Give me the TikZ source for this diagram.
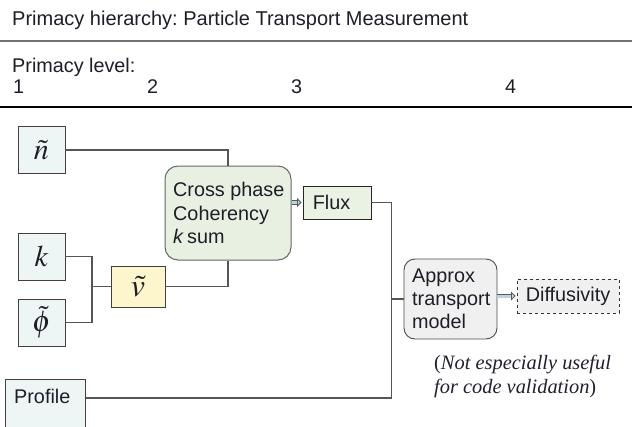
\documentclass[tikz,border=0pt]{standalone}
\usepackage{mathptmx}
\usepackage{fontspec}
\setmainfont{Liberation Sans}
\newfontfamily\serifnote{Liberation Serif}
\usetikzlibrary{arrows.meta,calc}
\frenchspacing
\definecolor{txt}{HTML}{1E1E28}
\definecolor{bluebox}{HTML}{EEF5F5}
\definecolor{yellowbox}{HTML}{FDF5CB}
\definecolor{greenbox}{HTML}{E8F0E2}
\definecolor{fluxbox}{HTML}{EAF2E4}
\definecolor{graybox}{HTML}{F0F0F0}
\definecolor{wire}{HTML}{555555}
\definecolor{arrowfill}{HTML}{B5D6E2}
\definecolor{notecol}{HTML}{20202E}
\tikzset{
  basefont/.style={font=\fontsize{19.8}{23.5}\selectfont, text=txt},
  varbox/.style={draw=black!75, line width=0.9pt, fill=bluebox, minimum width=47pt, minimum height=47pt, inner sep=0pt, font=\fontsize{30}{32}\selectfont, text=txt},
  wirestyle/.style={draw=wire, line width=1.1pt},
  fatarrow/.style={draw=black!65, line width=0.8pt, double=arrowfill, double distance=3pt, -{Triangle[length=4.5pt, width=9pt, fill=arrowfill]}, shorten >=1pt},
}
\begin{document}
\begin{tikzpicture}[x=1pt,y=-1pt, basefont]
\useasboundingbox (0,0) rectangle (632,426);
\fill[white] (0,0) rectangle (632,426);
% header
\node[anchor=base west, inner sep=0pt, font=\fontsize{20}{24}\selectfont] (title) at (12,25) {Primacy hierarchy: Particle Transport Measurement};
\draw[line width=2pt, draw=black!55] (0,41) -- (632,41);
\node[anchor=base west, inner sep=0pt] (plevel) at (12,72) {Primacy level:};
\node[anchor=base west, inner sep=0pt] (l1) at (13,93) {1};
\node[anchor=base west, inner sep=0pt] (l2) at (147,93) {2};
\node[anchor=base west, inner sep=0pt] (l3) at (291,93) {3};
\node[anchor=base west, inner sep=0pt] (l4) at (505,93) {4};
\draw[line width=1.4pt, draw=black] (0,107) -- (632,107);
% level 1 boxes
\node[varbox] (nt) at (41.5,150) {$\tilde{n}$};
\node[varbox] (kk) at (41.5,256.5) {$k$};
\node[varbox] (ph) at (41.5,322.5) {$\tilde{\phi}$};
\node[draw=black!75, line width=0.9pt, fill=bluebox, anchor=north west, minimum width=80pt, minimum height=70pt, inner sep=0pt] (prof) at (5,379) {};
\node[anchor=base west, inner sep=0pt] (proftext) at ($(prof.north west)+(9,24)$) {Profile};
% level 2
\node[draw=black!75, line width=0.9pt, fill=yellowbox, minimum width=54pt, minimum height=41pt, inner sep=0pt, font=\fontsize{32}{34}\selectfont, text=txt] (vv) at (138,286.5) {$\tilde{v}$};
% level 3
\node[draw=black!60, line width=1pt, fill=greenbox, rounded corners=13pt, minimum width=126pt, minimum height=94pt, inner sep=0pt] (cp) at (228,213) {};
\node[anchor=north west, align=left, inner sep=0pt] (cptext) at (173,182) {Cross phase\\Coherency\\\textit{k}\,sum};
\node[draw=black!85, line width=0.9pt, fill=fluxbox, minimum width=68pt, minimum height=33pt, inner sep=0pt] (flux) at (337,202.5) {\hspace*{-11pt}Flux};
% level 4
\node[draw=black!70, line width=0.9pt, fill=graybox, rounded corners=11pt, minimum width=93pt, minimum height=80pt, inner sep=0pt] (am) at (450.5,299) {};
\node[anchor=north west, align=left, inner sep=0pt, font=\fontsize{19.8}{23}\selectfont] (amtext) at (412,269) {Approx\\transport\\model};
\node[draw=black!80, dashed, line width=0.8pt, fill=graybox, minimum width=102pt, minimum height=34pt, inner sep=0pt] (diff) at (568,296) {Diffusivity};
\node[anchor=north west, align=left, inner sep=0pt, text=notecol, font=\serifnote\fontsize{20.4}{24}\selectfont] (note) at (434,355) {\textup{(}\textit{Not especially useful}\\\textit{for code validation}\textup{)}};
% wires
\draw[wirestyle] (nt.east) -| (cp.north);
\draw[wirestyle] (kk.east) -- ++(26.5,0) coordinate (kj) |- (ph.east);
\draw[wirestyle] (kj |- vv.west) -- (vv.west);
\draw[wirestyle] (vv.east) -| (cp.south);
\coordinate (pe) at ($(prof.north east)+(0,19)$);
\draw[wirestyle] (flux.east) -- ++(20,0) coordinate (fj) |- (pe);
\draw[wirestyle] (fj |- am.west) -- (am.west);
% arrows
\draw[fatarrow] (cp.east |- flux.west) -- (flux.west);
\draw[fatarrow] (am.east |- diff.west) -- (diff.west);
\end{tikzpicture}
\end{document}
